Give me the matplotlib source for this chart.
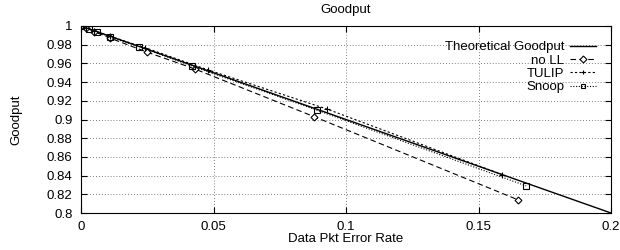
import matplotlib
matplotlib.use("Agg")
import matplotlib.pyplot as plt
import numpy as np

plt.rcParams['font.family'] = ['Liberation Sans', 'DejaVu Sans']

theo_x = [0.0, 0.2]
theo_y = [1.0, 0.8]

nol_x = [0.0, 0.002, 0.005, 0.011, 0.025, 0.043, 0.088, 0.165]
nol_y = [1.0, 0.998, 0.994, 0.987, 0.972, 0.954, 0.903, 0.814]

tulip_x = [0.0, 0.002, 0.005, 0.011, 0.024, 0.048, 0.093, 0.159]
tulip_y = [1.0, 0.998, 0.995, 0.989, 0.977, 0.953, 0.911, 0.841]

snoop_x = [0.0, 0.003, 0.006, 0.011, 0.022, 0.042, 0.089, 0.168]
snoop_y = [1.0, 0.997, 0.994, 0.988, 0.978, 0.957, 0.910, 0.829]

xticks = [0, 0.05, 0.1, 0.15, 0.2]
xticklabels = ['0', '0.05', '0.1', '0.15', '0.2']
yticks = [0.8, 0.82, 0.84, 0.86, 0.88, 0.9, 0.92, 0.94, 0.96, 0.98, 1.0]
yticklabels = ['0.8', '0.82', '0.84', '0.86', '0.88', '0.9', '0.92', '0.94', '0.96', '0.98', '1']

FS = 9.5

fig = plt.figure(figsize=(6.2, 2.5), dpi=100)
ax = fig.add_axes([81/620, 37/250, 530/620, 187/250])

ax.plot(theo_x, theo_y, color='black', lw=1.0, label='Theoretical Goodput')
ax.plot(nol_x, nol_y, color='black', lw=0.8, ls=(0, (5, 3)), marker='D', markersize=3.5,
        markerfacecolor='white', markeredgewidth=0.8, label='no LL')
ax.plot(tulip_x, tulip_y, color='black', lw=0.8, ls=(0, (2, 2)), marker='+', markersize=5,
        markeredgewidth=0.8, label='TULIP')
ax.plot(snoop_x, snoop_y, color='black', lw=0.8, ls=(0, (1, 1.5)), marker='s', markersize=4.5,
        markerfacecolor='none', markeredgewidth=0.8, label='Snoop')

ax.set_xlim(0, 0.2)
ax.set_ylim(0.8, 1.0)
ax.set_xticks(xticks)
ax.set_xticklabels(xticklabels)
ax.set_yticks(yticks)
ax.set_yticklabels(yticklabels)
ax.tick_params(direction='in', top=True, right=True, labelsize=FS, length=4, width=0.8)
ax.tick_params(axis='x', pad=6)
ax.tick_params(axis='y', pad=6)
ax.grid(True, color='#555555', ls=(0, (1, 2.5)), lw=0.6)
for s in ax.spines.values():
    s.set_linewidth(0.8)

ax.set_title('Goodput', fontsize=FS, pad=9)
ax.set_xlabel('Data Pkt Error Rate', fontsize=FS, labelpad=0)
ax.set_ylabel('Goodput', fontsize=FS, labelpad=18)

leg = ax.legend(loc='upper right', bbox_to_anchor=(0.985, 0.955), frameon=False, markerfirst=False,
                fontsize=FS, handlelength=2.0, handletextpad=0.45, labelspacing=0.08,
                borderaxespad=0.3, borderpad=0.2)
for h in leg.legend_handles:
    h.set_markersize(3.5)

fig.savefig('out.png', dpi=100)
